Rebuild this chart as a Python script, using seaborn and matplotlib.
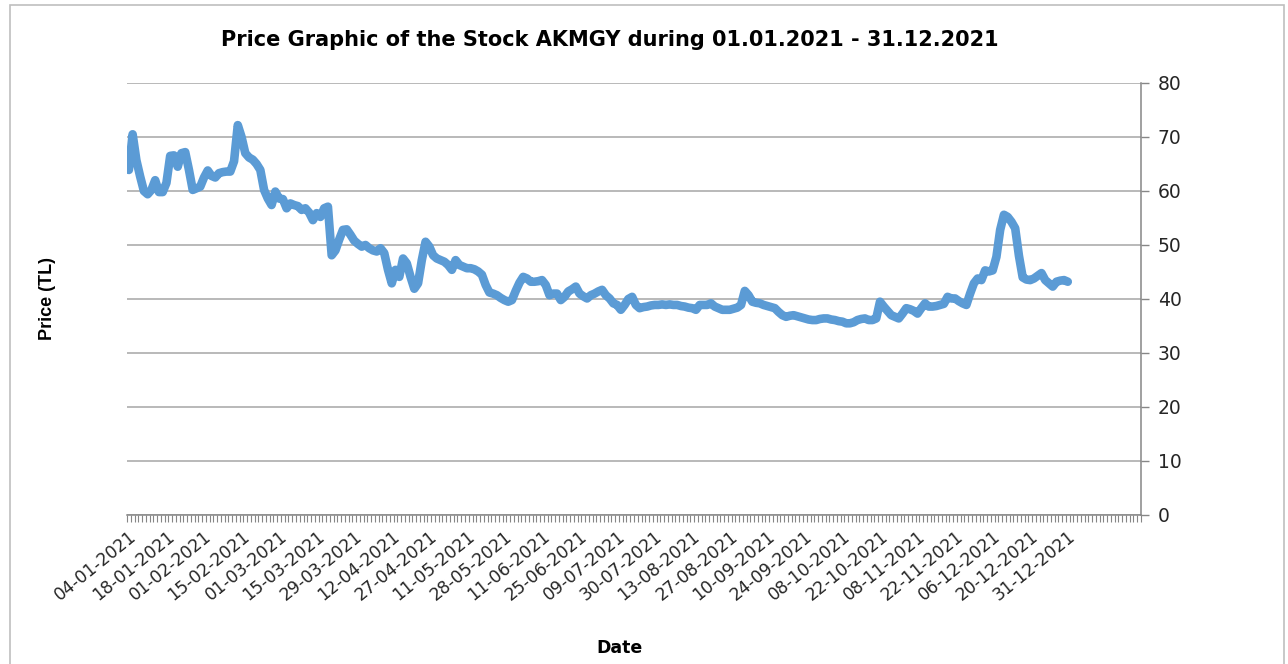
import numpy as np
import pandas as pd
import matplotlib
matplotlib.use("Agg")
import matplotlib.pyplot as plt
from matplotlib.patches import Rectangle
from matplotlib.ticker import FixedLocator, FixedFormatter
import seaborn as sns

# ---------------- data ----------------
prices = [
    63.9, 70.5, 65.7, 62.7, 60.0, 59.4, 60.2, 62.0, 59.8, 59.8,
    61.5, 66.5, 66.6, 64.5, 67.0, 67.2, 63.9, 60.2, 60.5, 60.8,
    62.5, 63.8, 62.8, 62.5, 63.3, 63.5, 63.6, 63.6, 65.5, 72.2,
    70.0, 67.0, 66.2, 65.8, 65.0, 63.9, 60.2, 58.6, 57.4, 59.9,
    58.6, 58.5, 56.8, 57.7, 57.4, 57.2, 56.5, 56.8, 56.0, 54.6,
    55.9, 55.2, 56.8, 57.1, 48.1, 49.0, 51.0, 52.8, 52.9, 51.9,
    50.8, 50.2, 49.7, 50.0, 49.4, 49.0, 48.8, 49.4, 48.5, 45.4,
    42.9, 45.4, 44.1, 47.5, 46.6, 44.1, 41.9, 42.9, 47.2, 50.6,
    49.7, 48.1, 47.5, 47.2, 46.9, 46.3, 45.4, 47.2, 46.3, 46.0,
    45.7, 45.7, 45.5, 45.1, 44.5, 42.6, 41.2, 41.0, 40.7, 40.2,
    39.8, 39.5, 39.8, 41.5, 43.0, 44.1, 43.8, 43.2, 43.2, 43.3,
    43.5, 42.6, 40.7, 41.0, 41.0, 39.8, 40.4, 41.4, 41.8, 42.3,
    41.0, 40.5, 40.1, 40.7, 41.0, 41.4, 41.7, 40.7, 40.1, 39.2,
    38.9, 38.0, 38.9, 40.0, 40.4, 38.9, 38.3, 38.5, 38.6, 38.8,
    38.9, 38.9, 39.0, 38.9, 39.0, 38.9, 38.9, 38.7, 38.6, 38.4,
    38.3, 38.0, 38.9, 38.9, 38.9, 39.2, 38.6, 38.3, 38.0, 38.0,
    38.0, 38.2, 38.4, 38.9, 41.5, 40.7, 39.5, 39.3, 39.2, 38.9,
    38.7, 38.5, 38.3, 37.6, 37.0, 36.7, 36.9, 37.0, 36.8, 36.6,
    36.4, 36.2, 36.1, 36.1, 36.3, 36.4, 36.4, 36.2, 36.1, 35.9,
    35.8, 35.5, 35.5, 35.7, 36.1, 36.3, 36.4, 36.1, 36.1, 36.4,
    39.5, 38.6, 37.8, 37.0, 36.7, 36.4, 37.3, 38.3, 38.1, 37.8,
    37.3, 38.3, 39.2, 38.6, 38.6, 38.7, 38.9, 39.1, 40.4, 40.1,
    40.1, 39.6, 39.2, 38.9, 41.0, 42.9, 43.8, 43.5, 45.3, 45.1,
    45.3, 47.8, 52.8, 55.6, 55.2, 54.3, 53.1, 48.0, 44.0, 43.6,
    43.5, 43.8, 44.3, 44.8, 43.5, 42.9, 42.3, 43.2, 43.4, 43.5,
    43.2,
]

date_labels = [
    "04-01-2021", "18-01-2021", "01-02-2021", "15-02-2021", "01-03-2021",
    "15-03-2021", "29-03-2021", "12-04-2021", "27-04-2021", "11-05-2021",
    "28-05-2021", "11-06-2021", "25-06-2021", "09-07-2021", "30-07-2021",
    "13-08-2021", "27-08-2021", "10-09-2021", "24-09-2021", "08-10-2021",
    "22-10-2021", "08-11-2021", "22-11-2021", "06-12-2021", "20-12-2021",
    "31-12-2021",
]
label_every = 10
n_categories = 270  # category axis length (includes trailing empty rows)

y_ticks = [0, 10, 20, 30, 40, 50, 60, 70, 80]

title = "Price Graphic of the Stock AKMGY during 01.01.2021 - 31.12.2021"
x_title = "Date"
y_title = "Price (TL)"

# ---------------- plot ----------------
sns.set_theme(style="white")
plt.rcParams["font.family"] = ["Liberation Sans", "DejaVu Sans"]
WIDE = ["DejaVu Sans", "Liberation Sans"]

W, H, DPI = 1288, 664, 100
fig = plt.figure(figsize=(W / DPI, H / DPI), dpi=DPI)
fig.patch.set_facecolor("white")

left, right, top, bottom = 127, 1141, 83, 515
ax = fig.add_axes([left / W, 1 - bottom / H, (right - left) / W, (bottom - top) / H])

df = pd.DataFrame({"idx": np.arange(len(prices)), "price": prices})
sns.lineplot(data=df, x="idx", y="price", ax=ax, color="#5B9BD5",
             linewidth=6.2, solid_joinstyle="round", solid_capstyle="round")

ax.set_xlim(-0.5, n_categories - 0.5)
ax.set_ylim(0, 80)

grid_col = "#A6A6A6"
ax.set_yticks(y_ticks)
ax.yaxis.grid(True, color=grid_col, linewidth=1.1)
ax.xaxis.grid(False)
ax.set_axisbelow(True)

ax.yaxis.tick_right()
ax.tick_params(axis="y", which="major", direction="out", length=6, width=1,
               color="#868686", labelsize=13.5, labelcolor="#262626", pad=6,
               left=False, right=True)
for lab in ax.get_yticklabels():
    lab.set_family(WIDE)

# x: ticks at category boundaries, labels every 10 categories
major_pos = [i * label_every for i in range(len(date_labels))]
ax.xaxis.set_major_locator(FixedLocator(major_pos))
ax.xaxis.set_major_formatter(FixedFormatter(date_labels))
ax.xaxis.set_minor_locator(FixedLocator(np.arange(n_categories + 1) - 0.5))
ax.tick_params(axis="x", which="major", length=0, labelsize=12.3,
               labelcolor="#262626", pad=9)
ax.tick_params(axis="x", which="minor", direction="out", length=5, width=0.8,
               color="#868686", bottom=True)
for lab in ax.get_xticklabels():
    lab.set_family(WIDE)
    lab.set_rotation(39)
    lab.set_ha("right")
    lab.set_rotation_mode("anchor")

for s in ["top", "left"]:
    ax.spines[s].set_visible(False)
for s in ["bottom", "right"]:
    ax.spines[s].set_visible(True)
    ax.spines[s].set_color("#868686")
    ax.spines[s].set_linewidth(1.1)

ax.set_xlabel("")
ax.set_ylabel("")

fig.text(610 / W, 1 - 40 / H, title, ha="center", va="center", family=WIDE,
         fontsize=15, fontweight="bold", color="#000000")
fig.text(48 / W, 1 - 298 / H, y_title, ha="center", va="center",
         rotation=90, fontsize=13, fontweight="bold", color="#000000")
fig.text(620 / W, 1 - 648 / H, x_title, ha="center", va="center", family=WIDE,
         fontsize=12.5, fontweight="bold", color="#000000")

# chart-area border
fig.patches.append(Rectangle((10 / W, -0.05), (1284 - 10) / W, 1 - 5 / H + 0.05,
                             transform=fig.transFigure, fill=False,
                             edgecolor="#BFBFBF", linewidth=1.2))

fig.savefig("out.png", dpi=DPI, facecolor="white")
